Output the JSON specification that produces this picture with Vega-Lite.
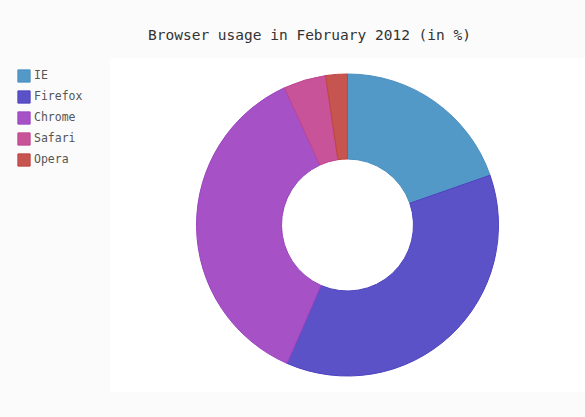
{
  "$schema": "https://vega.github.io/schema/vega-lite/v6.json",
  "width": 475,
  "height": 334,
  "autosize": {"type": "none"},
  "padding": {"left": 110, "top": 58, "right": 0, "bottom": 25},
  "background": "#fbfbfb",
  "view": {"fill": "#ffffff", "stroke": null},
  "title": {
    "text": "Browser usage in February 2012 (in %)",
    "font": "DejaVu Sans Mono",
    "fontSize": 14.5,
    "fontWeight": "normal",
    "color": "#333333",
    "anchor": "start",
    "dx": 131,
    "baseline": "alphabetic",
    "offset": 4
  },
  "data": {
    "values": [
      {"browser": "IE", "share": 19.5, "idx": 1},
      {"browser": "Firefox", "share": 36.6, "idx": 2},
      {"browser": "Chrome", "share": 36.3, "idx": 3},
      {"browser": "Safari", "share": 4.5, "idx": 4},
      {"browser": "Opera", "share": 2.3, "idx": 5}
    ]
  },
  "mark": {"type": "arc", "radius": 151, "radius2": 66, "strokeWidth": 1},
  "encoding": {
    "theta": {"field": "share", "type": "quantitative", "stack": true},
    "order": {"field": "idx", "type": "quantitative"},
    "color": {
      "field": "browser",
      "type": "nominal",
      "scale": {
        "domain": ["IE", "Firefox", "Chrome", "Safari", "Opera"],
        "range": ["#5299c8", "#5c52c8", "#a652c6", "#c85399", "#c7554f"]
      },
      "legend": {
        "title": null,
        "orient": "none",
        "legendX": -93,
        "legendY": 11,
        "symbolType": "square",
        "symbolSize": 150,
        "symbolStrokeWidth": 1,
        "symbolOpacity": 1,
        "rowPadding": 3,
        "labelFont": "DejaVu Sans Mono",
        "labelFontSize": 11.5,
        "labelColor": "#555555",
        "labelOffset": 3
      }
    },
    "stroke": {
      "field": "browser",
      "type": "nominal",
      "scale": {
        "domain": ["IE", "Firefox", "Chrome", "Safari", "Opera"],
        "range": ["#4a8ec0", "#4d42c0", "#9a42c0", "#c04590", "#c04440"]
      },
      "legend": {
        "title": null,
        "orient": "none",
        "legendX": -93,
        "legendY": 11
      }
    }
  }
}
